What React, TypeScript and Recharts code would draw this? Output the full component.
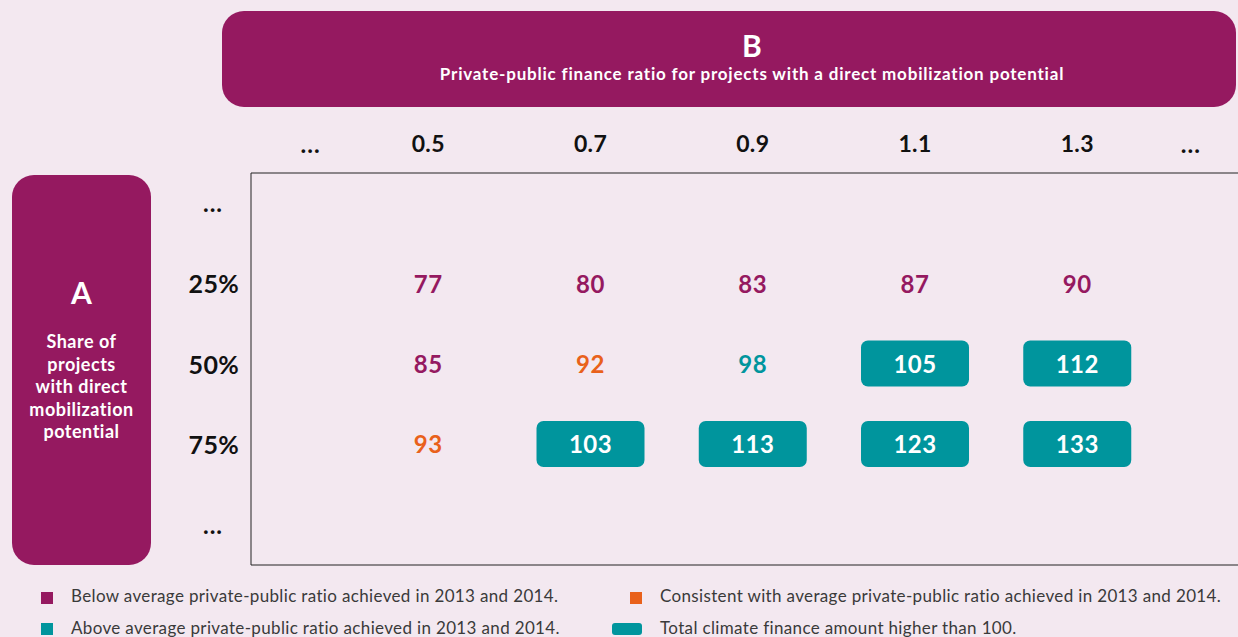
import { ReferenceArea, Scatter, ScatterChart, XAxis, YAxis } from 'recharts';

const BG = '#f3e8f0';
const PURPLE = '#951960';
const TEAL = '#00959d';
const ORANGE = '#e9611b';
const FONT = 'Lato, "Open Sans", sans-serif';

// private-public finance ratio columns and share-of-projects rows
const ratios = [0.5, 0.7, 0.9, 1.1, 1.3];
const shares = [25, 50, 75];

const values25 = [77, 80, 83, 87, 90];
const values50 = [85, 92, 98, 105, 112];
const values75 = [93, 103, 113, 123, 133];

const classes25 = ['below', 'below', 'below', 'below', 'below'];
const classes50 = ['below', 'consistent', 'above', 'high', 'high'];
const classes75 = ['consistent', 'high', 'high', 'high', 'high'];

const xTicks = [0.355, 0.5, 0.7, 0.9, 1.1, 1.3, 1.44];
const xTickLabels = ['...', '0.5', '0.7', '0.9', '1.1', '1.3', '...'];
const yTicks = [0, 25, 50, 75, 100];
const yTickLabels = ['...', '25%', '50%', '75%', '...'];

const legendLabels = [
  'Below average private-public ratio achieved in 2013 and 2014.',
  'Consistent with average private-public ratio achieved in 2013 and 2014.',
  'Above average private-public ratio achieved in 2013 and 2014.',
  'Total climate finance amount higher than 100.',
];

const textColor: Record<string, string> = {
  below: PURPLE,
  consistent: ORANGE,
  above: TEAL,
  high: '#ffffff',
};

const rows = [values25, values50, values75];
const rowClasses = [classes25, classes50, classes75];
const cells = shares.flatMap((share, r) =>
  ratios.map((ratio, c) => ({
    ratio,
    share,
    value: rows[r][c],
    cls: rowClasses[r][c],
  })),
);

const CellShape = (props: any) => {
  const { cx, cy, payload } = props;
  const high = payload.cls === 'high';
  return (
    <g>
      {high && <rect x={cx - 54} y={cy - 23} width={108} height={46} rx={7} fill={TEAL} />}
      <text
        x={cx}
        y={cy}
        textAnchor="middle"
        dominantBaseline="central"
        fontFamily={FONT}
        fontWeight={700}
        fontSize={24}
        letterSpacing={0.5}
        fill={textColor[payload.cls]}
      >
        {payload.value}
      </text>
    </g>
  );
};

const XTick = (props: any) => {
  const { x, y, payload } = props;
  const i = xTicks.indexOf(payload.value);
  const dots = xTickLabels[i] === '...';
  return (
    <text
      x={x}
      y={y - 22}
      textAnchor="middle"
      dominantBaseline="central"
      fontFamily={FONT}
      fontWeight={700}
      fontSize={dots ? 24 : 23}
      letterSpacing={dots ? 1 : 0.3}
      fill="#111"
    >
      {xTickLabels[i]}
    </text>
  );
};

const YTick = (props: any) => {
  const { x, y, payload } = props;
  const i = yTicks.indexOf(payload.value);
  const dots = yTickLabels[i] === '...';
  return (
    <text
      x={dots ? x - 30 : x - 4}
      y={y}
      textAnchor={dots ? 'middle' : 'end'}
      dominantBaseline="central"
      fontFamily={FONT}
      fontWeight={700}
      fontSize={dots ? 24 : 25}
      letterSpacing={dots ? 1 : 0.3}
      fill="#111"
    >
      {yTickLabels[i]}
    </text>
  );
};

const legendSwatch = [
  { left: 41, top: 592, width: 12, height: 12, color: PURPLE, radius: 0 },
  { left: 630, top: 592, width: 12, height: 12, color: ORANGE, radius: 0 },
  { left: 41, top: 623, width: 12, height: 12, color: TEAL, radius: 0 },
  { left: 612, top: 623, width: 30, height: 12, color: TEAL, radius: 3 },
];
const legendTextPos = [
  { left: 71, top: 597 },
  { left: 660, top: 597 },
  { left: 71, top: 629 },
  { left: 660, top: 629 },
];

export default function App() {
  return (
    <div
      style={{
        position: 'fixed',
        left: 0,
        top: 0,
        width: 1238,
        height: 637,
        overflow: 'hidden',
        background: BG,
        fontFamily: FONT,
      }}
    >
      <ScatterChart width={1246} height={637} margin={{ top: 0, right: 0, bottom: 72, left: 0 }}>
        <XAxis
          type="number"
          dataKey="ratio"
          orientation="top"
          domain={[0.2815, 1.508]}
          ticks={xTicks}
          height={173}
          axisLine={false}
          tickLine={false}
          tick={<XTick />}
          allowDataOverflow
        />
        <YAxis
          type="number"
          dataKey="share"
          reversed
          domain={[-9.2, 112.6]}
          ticks={yTicks}
          width={251}
          axisLine={false}
          tickLine={false}
          tick={<YTick />}
          allowDataOverflow
        />
        <ReferenceArea
          x1={0.2815}
          x2={1.508}
          y1={-9.2}
          y2={112.6}
          fill="none"
          stroke="#222"
          strokeWidth={1}
          ifOverflow="visible"
        />
        <Scatter data={cells} shape={<CellShape />} isAnimationActive={false} />
      </ScatterChart>

      {/* B header */}
      <div
        style={{
          position: 'absolute',
          left: 222,
          top: 11,
          width: 1014,
          height: 96,
          borderRadius: 22,
          background: PURPLE,
          color: '#fff',
        }}
      >
        <div
          style={{
            position: 'absolute',
            left: 0,
            width: 1060,
            top: 17,
            textAlign: 'center',
            fontSize: 30,
            fontWeight: 700,
            lineHeight: '34px',
          }}
        >
          B
        </div>
        <div
          style={{
            position: 'absolute',
            left: 0,
            width: 1060,
            top: 53,
            textAlign: 'center',
            fontSize: 17,
            fontWeight: 700,
            letterSpacing: 0.8,
            lineHeight: '20px',
          }}
        >
          Private-public finance ratio for projects with a direct mobilization potential
        </div>
      </div>

      {/* A header */}
      <div
        style={{
          position: 'absolute',
          left: 12,
          top: 175,
          width: 139,
          height: 390,
          borderRadius: 22,
          background: PURPLE,
          color: '#fff',
          textAlign: 'center',
        }}
      >
        <div
          style={{
            position: 'absolute',
            left: 0,
            width: 139,
            top: 100,
            fontSize: 30,
            fontWeight: 700,
            lineHeight: '34px',
          }}
        >
          A
        </div>
        <div
          style={{
            position: 'absolute',
            left: 0,
            width: 139,
            top: 155,
            fontSize: 18,
            fontWeight: 700,
            letterSpacing: 0.5,
            lineHeight: '22.5px',
          }}
        >
          Share of
          <br />
          projects
          <br />
          with direct
          <br />
          mobilization
          <br />
          potential
        </div>
      </div>

      {/* legend */}
      {legendSwatch.map((s, i) => (
        <div
          key={'sw' + i}
          style={{
            position: 'absolute',
            left: s.left,
            top: s.top,
            width: s.width,
            height: s.height,
            borderRadius: s.radius,
            background: s.color,
          }}
        />
      ))}
      {legendLabels.map((t, i) => (
        <div
          key={'lt' + i}
          style={{
            position: 'absolute',
            left: legendTextPos[i].left,
            top: legendTextPos[i].top - 11,
            lineHeight: '20px',
            fontSize: 17,
            letterSpacing: 0.35,
            color: '#3a3a3a',
            whiteSpace: 'nowrap',
          }}
        >
          {t}
        </div>
      ))}
    </div>
  );
}
